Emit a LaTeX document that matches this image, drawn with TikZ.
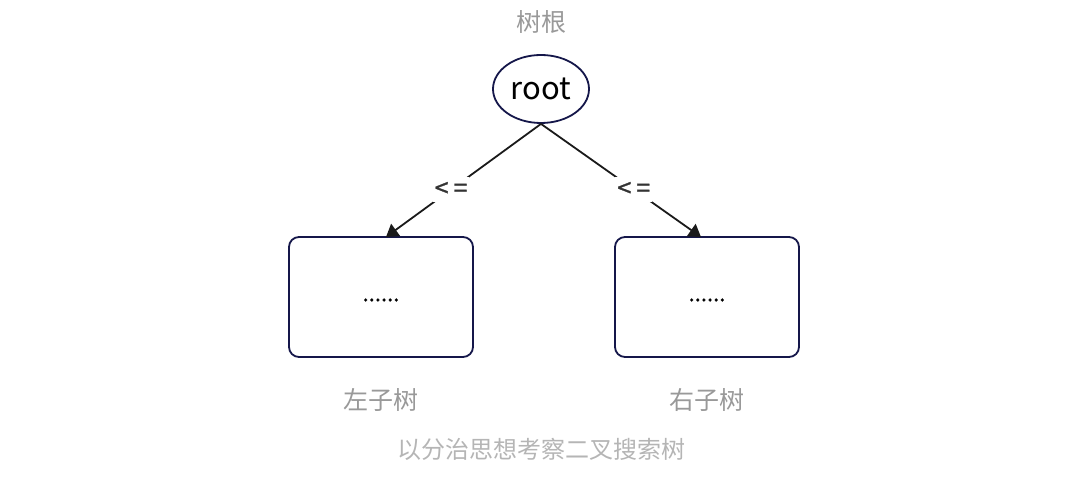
\documentclass[tikz,border=0pt]{standalone}
\usepackage{fontspec}
\setmainfont{Noto Sans CJK SC}
\newfontfamily\cjk{Noto Sans CJK SC}
\newfontfamily\cjkb[FakeBold=1.2]{Noto Sans CJK SC}
\usetikzlibrary{arrows.meta,shapes.geometric}
\definecolor{navy}{HTML}{15174A}
\definecolor{graytxt}{HTML}{999999}
\definecolor{lightgraytxt}{HTML}{B5B5B5}
\definecolor{edgecol}{HTML}{1A1A1A}
\begin{document}
\begin{tikzpicture}[x=1pt,y=-1pt,
  title/.style={text=graytxt,font=\cjk\fontsize{25}{30}\selectfont,inner sep=0pt},
  rootnode/.style={draw=navy,line width=1.8pt,ellipse,minimum width=96pt,minimum height=68pt,inner sep=0pt,font=\cjk\fontsize{31}{36}\selectfont},
  subtree/.style={draw=navy,line width=1.8pt,rounded corners=10pt,minimum width=184pt,minimum height=120pt,inner sep=0pt},
  dots/.style={font=\cjkb\fontsize{22}{26}\selectfont,inner sep=0pt},
  conn/.style={draw=edgecol,line width=1.8pt,-{Triangle[width=15pt,length=12pt]}},
  lbl/.style={fill=white,text=black!80,font=\cjkb\fontsize{25}{28}\selectfont,inner xsep=2pt,inner ysep=5pt}
]
\useasboundingbox (0,0) rectangle (1072,478);
\node[title] (rootlbl) at (541,22) {树根};
\node[rootnode] (root) at (541,89) {root};
\node[subtree] (left) at (381,297) {};
\node[subtree] (right) at (707,297) {};
\node[dots] (ldots) at (381,300) {......};
\node[dots] (rdots) at (707,300) {......};
\coordinate (lt) at (386,237);
\coordinate (rt) at (701,237);
\draw[conn] (root.south) -- node[lbl,pos=0.58] {\hbox{<}\hspace{5pt}\hbox{=}} (lt);
\draw[conn] (root.south) -- node[lbl,pos=0.58] {\hbox{<}\hspace{5pt}\hbox{=}} (rt);
\node[title] (ll) at (381,400) {左子树};
\node[title] (rl) at (707,400) {右子树};
\node[text=lightgraytxt,font=\cjk\fontsize{24}{28}\selectfont,inner sep=0pt] (cap) at (541,449) {以分治思想考察二叉搜索树};
\end{tikzpicture}
\end{document}
